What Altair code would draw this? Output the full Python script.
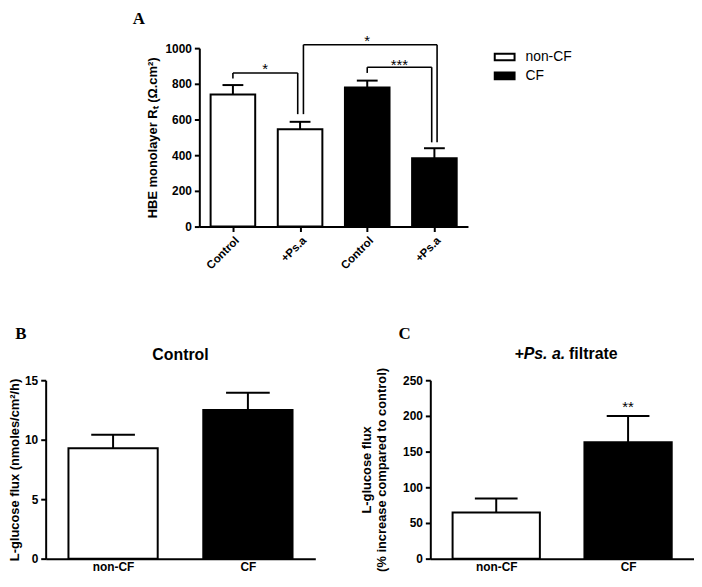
import json
import altair as alt
import pandas as pd

FONT = "Liberation Sans"
SERIF = "Liberation Serif"

panel_letters = ["A", "B", "C"]

# ---------- Panel A ----------
a_pos = [0, 1, 2, 3]
a_labels = ["Control", "+Ps.a", "Control", "+Ps.a"]
a_groups = ["non-CF", "non-CF", "CF", "CF"]
a_means = [740, 545, 780, 383]
a_errs = [793, 587, 818, 439]
a_yticks = [0, 200, 400, 600, 800, 1000]
a_ytitle = "HBE monolayer Rₜ (Ω.cm²)"

# significance brackets (segment ends, x in bar positions, y in data units)
br_x1 = [0, 0.965, 0, 1.05, 3.04, 1.05, 2, 2.96, 2]
br_x2 = [0, 0.965, 0.965, 1.05, 3.04, 3.04, 2, 2.96, 2.96]
br_y1 = [830, 630, 861, 630, 472, 1019, 861, 472, 893]
br_y2 = [861, 861, 861, 1019, 1019, 1019, 893, 893, 893]
star_x = [0.48, 2.0, 2.48]
star_y = [898, 1055, 922]
star_text = ["*", "*", "***"]

# ---------- Panel B ----------
b_pos = [0, 1]
b_labels = ["non-CF", "CF"]
b_groups = ["non-CF", "CF"]
b_means = [9.28, 12.5]
b_errs = [10.42, 13.94]
b_yticks = [0, 5, 10, 15]
b_ytitle = "L-glucose flux (nmoles/cm²/h)"
b_title = "Control"

# ---------- Panel C ----------
c_pos = [0, 1]
c_labels = ["non-CF", "CF"]
c_groups = ["non-CF", "CF"]
c_means = [64.8, 163]
c_errs = [84.3, 200]
c_yticks = [0, 50, 100, 150, 200, 250]
c_ytitle = ["L-glucose flux", "(% increase compared to control)"]
c_title_italic = "+Ps. a."
c_title_rest = "filtrate"
c_star_x = [1]
c_star_y = [216]
c_star_text = ["**"]

group_domain = ["non-CF", "CF"]
group_range = ["white", "black"]


def make_scales(pos, labels, yticks, ytitle, title_pad, xticks, label_angle, label_size):
    xscale = alt.Scale(domain=[-0.5, len(pos) - 0.5], nice=False, zero=False)
    yscale = alt.Scale(domain=[yticks[0], yticks[-1]], nice=False, zero=True)
    xaxis = alt.Axis(values=pos, labelExpr=json.dumps(labels) + "[datum.value]",
                     ticks=xticks, tickSize=5, tickWidth=2, labelAngle=label_angle,
                     labelFontSize=label_size, labelPadding=3, grid=False,
                     labelOverlap=False, title=None)
    yaxis = alt.Axis(values=yticks, title=ytitle, grid=False, tickSize=5, tickWidth=2,
                     labelPadding=3, titlePadding=title_pad, format="d",
                     labelOverlap=False)
    return xscale, yscale, xaxis, yaxis


def bar_layers(pos, groups, means, errs, S, bar_half, cap_half, legend):
    xscale, yscale, xaxis, yaxis = S
    df = pd.DataFrame({"pos": pos, "group": groups, "mean": means, "err": errs})
    df["lo"] = df["pos"] - bar_half
    df["hi"] = df["pos"] + bar_half
    df["clo"] = df["pos"] - cap_half
    df["chi"] = df["pos"] + cap_half
    base = alt.Chart(df)
    bars = base.mark_bar(stroke="black", strokeWidth=2).encode(
        x=alt.X("lo:Q", scale=xscale, axis=xaxis),
        x2="hi:Q",
        y=alt.Y("mean:Q", scale=yscale, axis=yaxis),
        y2=alt.datum(0),
        fill=alt.Fill("group:N", scale=alt.Scale(domain=group_domain, range=group_range),
                      legend=legend),
    )
    errs_v = base.mark_rule(color="black", strokeWidth=2).encode(
        x=alt.X("pos:Q", scale=xscale, axis=xaxis),
        y=alt.Y("mean:Q", scale=yscale, axis=yaxis),
        y2="err:Q",
    )
    caps = base.mark_rule(color="black", strokeWidth=2).encode(
        x=alt.X("clo:Q", scale=xscale, axis=xaxis),
        x2="chi:Q",
        y=alt.Y("err:Q", scale=yscale, axis=yaxis),
    )
    return [errs_v, caps, bars]


def letter(ch, dx, dy):
    return alt.Chart(pd.DataFrame({"t": [ch]})).mark_text(
        font=SERIF, fontSize=17, fontWeight="bold", align="center", baseline="middle",
        color="black").encode(text="t:N", x=alt.value(dx), y=alt.value(dy))


def text_mark(txt, dx, dy, size=16, style="normal", align="center"):
    return alt.Chart(pd.DataFrame({"t": [txt]})).mark_text(
        font=FONT, fontSize=size, fontWeight="bold", fontStyle=style, color="black",
        baseline="middle", align=align).encode(
        text="t:N", x=alt.value(dx), y=alt.value(dy))


# ---- A ----
legendA = alt.Legend(title=None, orient="none", legendX=452, legendY=-2, padding=0,
                     symbolType="M-1,-0.33H1V0.33H-1Z", symbolSize=400,
                     symbolStrokeColor="black", symbolStrokeWidth=2,
                     labelFont=FONT, labelFontSize=14, labelColor="black",
                     labelOffset=10, rowPadding=0)
SA = make_scales(a_pos, a_labels, a_yticks, a_ytitle, 5, True, -45, 11.5)
layersA = bar_layers(a_pos, a_groups, a_means, a_errs, SA, 0.332, 0.155, legendA)
brdf = pd.DataFrame({"x1": br_x1, "x2": br_x2, "y1": br_y1, "y2": br_y2})
brackets = alt.Chart(brdf).mark_rule(color="black", strokeWidth=1.6).encode(
    x=alt.X("x1:Q", scale=SA[0], axis=SA[2]), x2="x2:Q",
    y=alt.Y("y1:Q", scale=SA[1], axis=SA[3]), y2="y2:Q")
stdf = pd.DataFrame({"x": star_x, "y": star_y, "t": star_text})
stars = alt.Chart(stdf).mark_text(font=FONT, fontSize=15, color="black",
                                  baseline="middle", dy=3).encode(
    x=alt.X("x:Q", scale=SA[0], axis=SA[2]), y=alt.Y("y:Q", scale=SA[1], axis=SA[3]),
    text="t:N")
chartA = alt.layer(*layersA, brackets, stars, letter(panel_letters[0], -61, -29)).properties(
    width=271, height=180)

spacer = alt.Chart(pd.DataFrame({"v": [0]})).mark_point(opacity=0, size=1).encode(
    x=alt.value(10), y=alt.value(5)).properties(width=87, height=10)

# ---- B ----
SB = make_scales(b_pos, b_labels, b_yticks, b_ytitle, 3, False, 0, 12)
layersB = bar_layers(b_pos, b_groups, b_means, b_errs, SB, 0.331, 0.162, None)
chartB = alt.layer(*layersB, text_mark(b_title, 136, -25),
                   letter(panel_letters[1], -25, -47)).properties(width=272, height=180)

# ---- C ----
SC = make_scales(c_pos, c_labels, c_yticks, c_ytitle, 14, False, 0, 12)
layersC = bar_layers(c_pos, c_groups, c_means, c_errs, SC, 0.331, 0.162, None)
cst = pd.DataFrame({"x": c_star_x, "y": c_star_y, "t": c_star_text})
starsC = alt.Chart(cst).mark_text(font=FONT, fontSize=15, color="black",
                                  baseline="middle", dy=3).encode(
    x=alt.X("x:Q", scale=SC[0], axis=SC[2]), y=alt.Y("y:Q", scale=SC[1], axis=SC[3]),
    text="t:N")
chartC = alt.layer(*layersC, starsC,
                   text_mark(c_title_italic, 136, -26, style="italic", align="right"),
                   text_mark(c_title_rest, 140, -26, align="left"),
                   letter(panel_letters[2], -26, -47)).properties(width=266, height=180)

top = alt.hconcat(spacer, chartA, spacing=0)
bottom = alt.hconcat(chartB, chartC, spacing=45)
chart = alt.vconcat(top, bottom, spacing=53).properties(
    padding={"left": 0, "top": 0, "right": 0, "bottom": 0}
).configure_view(stroke=None).configure_axis(
    domainColor="black", domainWidth=2, tickColor="black",
    labelFont=FONT, labelFontWeight="bold", labelColor="black", labelFontSize=12,
    titleFont=FONT, titleFontWeight="bold", titleColor="black", titleFontSize=13,
).configure_legend(labelFont=FONT)

chart.save("out.html", embed_options={"renderer": "svg", "actions": False})
